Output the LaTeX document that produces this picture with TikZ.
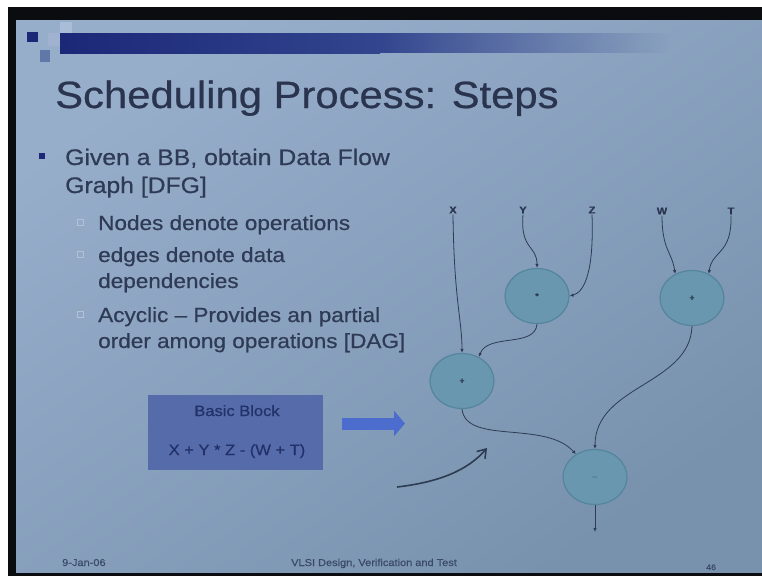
\documentclass[tikz,border=0pt]{standalone}
\usepackage{fontspec}
\setmainfont[FakeStretch=1.1,FakeBold=0.6]{Liberation Sans}
\usetikzlibrary{arrows.meta,shapes.geometric,fadings}

\definecolor{paper}{HTML}{FFFFFF}
\definecolor{frame}{HTML}{0A0C10}
\definecolor{slidelight}{HTML}{97AECB}
\definecolor{slidedark}{HTML}{7892AE}
\definecolor{barnavy}{HTML}{1B2878}
\definecolor{barmid}{HTML}{33458E}
\definecolor{sqlight}{HTML}{A9BCD8}
\definecolor{sqpale}{HTML}{A0B2D0}
\definecolor{sqmid}{HTML}{6078A8}
\definecolor{titletext}{HTML}{2A344F}
\definecolor{bodytext}{HTML}{2F3B56}
\definecolor{subbox}{HTML}{B4C2D6}
\definecolor{bbfill}{HTML}{566BA9}
\definecolor{bbtext}{HTML}{22316A}
\definecolor{bigarrow}{HTML}{4C6CCE}
\definecolor{opfill}{HTML}{6A97B0}
\definecolor{opline}{HTML}{55849D}
\definecolor{edgec}{HTML}{2D3C52}
\definecolor{footc}{HTML}{3A4A68}

\tikzset{
  bodyline/.style={anchor=base west, inner sep=0pt, text=bodytext,
    font=\fontsize{22.5}{26}\selectfont},
  subline/.style={anchor=base west, inner sep=0pt, text=bodytext,
    font=\fontsize{20.5}{24}\selectfont},
  subbullet/.style={draw=subbox, line width=0.8pt},
  opnode/.style={ellipse, fill=opfill, draw=opline, line width=1.2pt,
    minimum width=64pt, minimum height=55pt, inner sep=0pt,
    text=edgec, font=\fontsize{8}{8}\selectfont\bfseries},
  varlabel/.style={inner sep=1pt, text=titletext,
    font=\fontsize{10}{10}\selectfont\bfseries},
  flow/.style={draw=edgec, line width=0.8pt,
    -{Latex[length=4pt,width=3.5pt]}},
  foot/.style={anchor=base west, inner sep=0pt, text=footc,
    font=\fontsize{10}{10}\selectfont},
}

\begin{document}
\begin{tikzpicture}[x=1pt,y=-1pt]
\useasboundingbox (0,0) rectangle (762,576);

% projector screen surround
\fill[paper] (0,0) rectangle (762,576);
\fill[frame] (8,7) rectangle (762,576);
\shade[top color=slidelight, bottom color=slidedark, shading angle=35]
  (16,20) rectangle (762,572);

% title bar with corner squares
\shade[left color=barnavy, right color=barmid] (60,33) rectangle (380,53);
\fill[barmid, path fading=east] (380,33) rectangle (670,53);
\fill[barnavy] (27,32) rectangle (38,42);
\fill[sqlight] (60,22) rectangle (72,33);
\fill[sqpale] (48,33) rectangle (60,46);
\fill[sqmid] (40,50) rectangle (50,62);

% title
\node[anchor=base west, inner sep=0pt, text=titletext,
  font=\fontsize{38}{40}\selectfont] (title) at (55,108)
  {Scheduling Process: Steps};

% bullet list
\fill[barnavy] (39,153) rectangle (45,159);
\node[bodyline] (b1a) at (65,165) {Given a BB, obtain Data Flow};
\node[bodyline] (b1b) at (65,193) {Graph [DFG]};

\draw[subbullet] (77,219) rectangle (83,225);
\node[subline] (s1) at (98,230) {Nodes denote operations};
\draw[subbullet] (77,251) rectangle (83,257);
\node[subline] (s2a) at (98,262) {edges denote data};
\node[subline] (s2b) at (98,288) {dependencies};
\draw[subbullet] (77,311) rectangle (83,317);
\node[subline] (s3a) at (98,322) {Acyclic -- Provides an partial};
\node[subline] (s3b) at (98,348) {order among operations [DAG]};

% basic block
\node[fill=bbfill, minimum width=175pt, minimum height=75pt, inner sep=0pt,
  anchor=north west] (bb) at (148,395) {};
\node[inner sep=0pt, text=bbtext, font=\fontsize{15}{15}\selectfont,
  anchor=base] (bbtitle) at (237,416) {Basic Block};
\node[inner sep=0pt, text=bbtext, font=\fontsize{15}{15}\selectfont,
  anchor=base] (bbexpr) at (237,455) {X + Y * Z - (W + T)};

% block arrow towards the graph
\coordinate (ba1) at (342,423.5);
\coordinate (ba2) at (405,423.5);
\draw[bigarrow, line width=12pt,
  -{Triangle[length=11pt,width=25pt]}] (ba1) -- (ba2);

% input labels
\node[varlabel] (lx) at (453,210) {X};
\node[varlabel] (ly) at (523,210) {Y};
\node[varlabel] (lz) at (592,210) {Z};
\node[varlabel] (lw) at (662,211) {W};
\node[varlabel] (lt) at (731,211) {T};

% operation nodes
\node[opnode] (n1) at (537,296) {*};
\node[opnode] (n2) at (692,298) {+};
\node[opnode] (n3) at (462,381) {+};
\node[opnode] (n4) at (595,477) {$-$};
\coordinate (out) at (595,532);

% data dependencies
\draw[flow] (lx.south) .. controls (454,300) and (462,320) .. (n3.north);
\draw[flow] (ly.south) .. controls (520,250) and (537,245) .. (n1.north);
\draw[flow] (lz.south) .. controls (594,270) and (585,292) .. (n1.east);
\draw[flow] (lw.south) .. controls (662,250) and (672,252) .. (n2.125);
\draw[flow] (lt.south) .. controls (732,255) and (712,250) .. (n2.55);
\draw[flow] (n1.south) .. controls (535,348) and (488,333) .. (n3.55);
\draw[flow] (n3.south) .. controls (466,445) and (545,420) .. (n4.130);
\draw[flow] (n2.south) .. controls (690,385) and (595,385) .. (n4.north);
\draw[flow] (n4.south) -- (out);

% curved pointer
\coordinate (ptr1) at (397,487);
\coordinate (ptr2) at (487,448);
\draw[edgec, line width=1.6pt, -{Straight Barb[length=8pt,width=11pt]}]
  (ptr1) .. controls (440,482) and (468,470) .. (ptr2);

% footer
\node[foot] (fdate) at (62,566) {9-Jan-06};
\node[foot] (ftitle) at (291,566) {VLSI Design, Verification and Test};
\node[foot, font=\fontsize{8}{8}\selectfont] (fpage) at (706,570) {46};
\end{tikzpicture}
\end{document}
